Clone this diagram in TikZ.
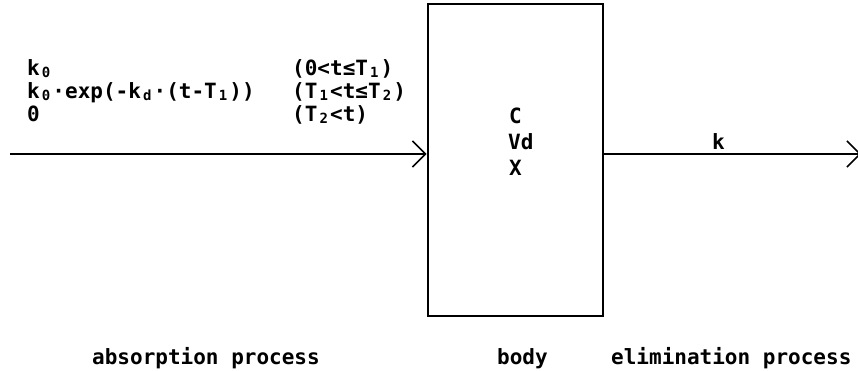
\documentclass[tikz,border=0pt]{standalone}
\usepackage{fontspec}
\setmainfont{DejaVu Sans Mono}
\usetikzlibrary{arrows.meta}
\newcommand\lblfont{\fontsize{21}{25}\selectfont\bfseries}
\newcommand\sbs[1]{\makebox[12.64pt][c]{\raisebox{-1.5pt}{\fontsize{14}{14}\selectfont\bfseries #1}}}
\tikzset{
  txt/.style={anchor=base west, inner sep=0pt, font=\lblfont},
  boxstyle/.style={draw, line width=2.8pt, inner sep=0pt, minimum width=175pt, minimum height=312pt},
  flow/.style={line width=2pt, -{Straight Barb[length=13pt, width=26pt, line width=1.6pt]}}
}
\begin{document}
\begin{tikzpicture}[x=1pt, y=-1pt]
\useasboundingbox (0,0) rectangle (858,371);
\clip (0,0) rectangle (858,371);
% box
\node[boxstyle] (body) at (515.5,160) {};
% connectors
\coordinate (src) at (10,154);
\coordinate (sink) at (861,154);
\draw[flow] (src) -- (src -| body.west);
\draw[flow] (body.east |- sink) -- (sink);
% absorption texts
\node[txt] (r1) at (27,76) {k\sbs{0}};
\node[txt] (r2) at (27,99) {k\sbs{0}·exp(-k\sbs{d}·(t-T\sbs{1}))};
\node[txt] (r3) at (27,122) {0};
\node[txt] (c1) at (292,76) {(0<t≤T\sbs{1})};
\node[txt] (c2) at (292,99) {(T\sbs{1}<t≤T\sbs{2})};
\node[txt] (c3) at (292,122) {(T\sbs{2}<t)};
% body texts
\node[txt] (vC) at (509,124) {C};
\node[txt] (vVd) at (508,150) {Vd};
\node[txt] (vX) at (509,176) {X};
% elimination constant
\node[txt] (kel) at (712,150) {k};
% bottom labels
\node[txt] (labs) at (92,364) {absorption process};
\node[txt] (lbody) at (497,364) {body};
\node[txt] (lel) at (611,364) {elimination process};
\end{tikzpicture}
\end{document}
